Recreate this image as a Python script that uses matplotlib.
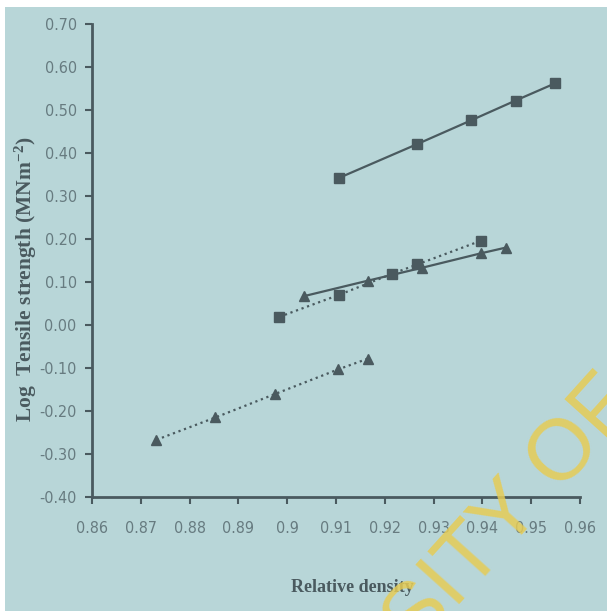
import matplotlib.pyplot as plt
from matplotlib.patches import Rectangle

# Data
sq_solid_x = [0.9106, 0.9267, 0.9377, 0.9468, 0.9549]
sq_solid_y = [0.342, 0.421, 0.476, 0.522, 0.562]

sq_dot_x = [0.8984, 0.9106, 0.9215, 0.9267, 0.9397]
sq_dot_y = [0.019, 0.070, 0.119, 0.141, 0.196]

tri_solid_x = [0.9034, 0.9165, 0.9276, 0.9398, 0.9448]
tri_solid_y = [0.067, 0.103, 0.133, 0.167, 0.180]

tri_dot_x = [0.8732, 0.8853, 0.8974, 0.9105, 0.9166]
tri_dot_y = [-0.267, -0.215, -0.161, -0.103, -0.078]

xticks = [0.86, 0.87, 0.88, 0.89, 0.90, 0.91, 0.92, 0.93, 0.94, 0.95, 0.96]
xtick_labels = ["0.86", "0.87", "0.88", "0.89", "0.9", "0.91", "0.92",
                "0.93", "0.94", "0.95", "0.96"]
yticks = [-0.40, -0.30, -0.20, -0.10, 0.00, 0.10, 0.20, 0.30, 0.40, 0.50, 0.60, 0.70]

bg = "#b8d6d8"
dark = "#4a5a5f"
tick_col = "#677b80"

W, H = 607, 611
fig = plt.figure(figsize=(W / 100, H / 100), dpi=100)
fig.patch.set_facecolor("white")
fig.patches.append(Rectangle((5 / W, 0), 1 - 5 / W, 1 - 7 / H, transform=fig.transFigure,
                             facecolor=bg, edgecolor="none", zorder=-5))

ax = fig.add_axes([92 / W, 1 - 497 / H, (580 - 92) / W, (497 - 24) / H])
ax.set_facecolor("none")

ax.plot(sq_solid_x, sq_solid_y, "-", color=dark, lw=1.6, marker="s", ms=6.5)
ax.plot(sq_dot_x, sq_dot_y, ":", color=dark, lw=1.6, marker="s", ms=6.5)
ax.plot(tri_solid_x, tri_solid_y, "-", color=dark, lw=1.6, marker="^", ms=7)
ax.plot(tri_dot_x, tri_dot_y, ":", color=dark, lw=1.6, marker="^", ms=7)

ax.set_xlim(0.86, 0.96)
ax.set_ylim(-0.40, 0.70)
ax.set_xticks(xticks)
ax.set_xticklabels(xtick_labels)
ax.set_yticks(yticks)
ax.set_yticklabels([f"{v:.2f}" for v in yticks])

for s in ["top", "right"]:
    ax.spines[s].set_visible(False)
for s in ["left", "bottom"]:
    ax.spines[s].set_color(dark)
    ax.spines[s].set_linewidth(2)

ax.tick_params(direction="out", length=5, width=1.5, color=dark,
               labelcolor=tick_col, labelsize=11.5)
ax.tick_params(axis="x", pad=12)
ax.tick_params(axis="y", pad=6)
for lab in ax.get_xticklabels() + ax.get_yticklabels():
    lab.set_fontstretch("condensed")

fig.text(26 / W, 1 - 279 / H, "Log  Tensile strength (MNm$\\mathregular{^{-2}}$)",
         rotation=90, ha="center", va="center", fontsize=15.5, fontweight="bold",
         family="Liberation Serif", color=dark)
fig.text(352 / W, 1 - 587 / H, "Relative density", ha="center", va="center",
         fontsize=13, fontweight="bold", family="Liberation Serif", color=dark)

# watermark
fig.text(512 / W, 1 - 514 / H, "SITY OF", rotation=48, rotation_mode="anchor",
         ha="center", va="center", fontsize=62, color="#e6cc55", alpha=0.85,
         family="Liberation Sans", zorder=5)

fig.savefig("out.png", dpi=100, facecolor=fig.get_facecolor())
